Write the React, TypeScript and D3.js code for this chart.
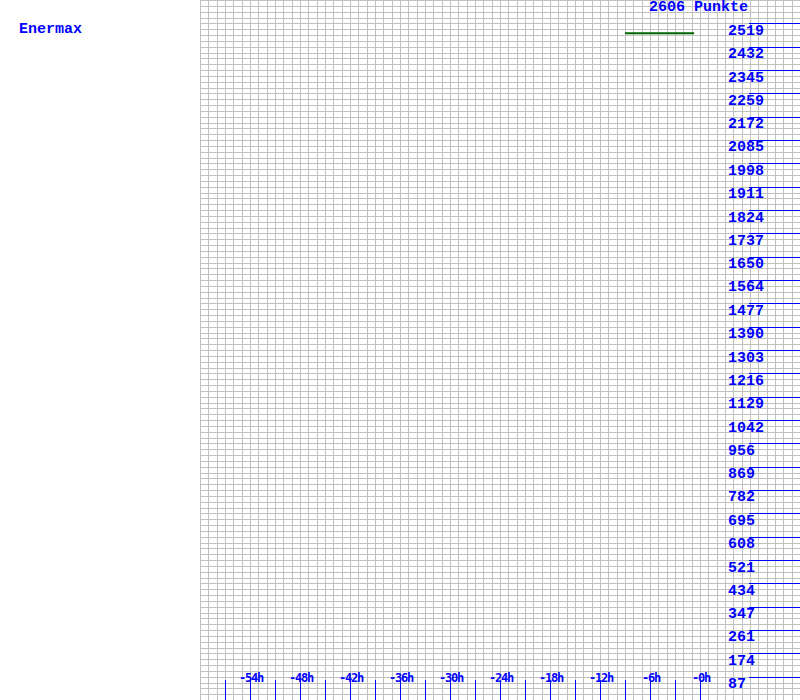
import React from "react";
import * as d3 from "d3";

const title = "Enermax";
const totalLabel = "2606 Punkte";
const yMax = 2606;
const yTickValues = [87, 174, 261, 347, 434, 521, 608, 695, 782, 869, 956, 1042, 1129, 1216, 1303, 1390, 1477, 1564, 1650, 1737, 1824, 1911, 1998, 2085, 2172, 2259, 2345, 2432, 2519];
const xTickHours = [-57, -54, -51, -48, -45, -42, -39, -36, -33, -30, -27, -24, -21, -18, -15, -12, -9, -6, -3, 0];
const xLabelHours = [-54, -48, -42, -36, -30, -24, -18, -12, -6, 0];
const seriesHours = [-9, -6, -3, -0.7];
const seriesValues = [2482, 2482, 2482, 2482];

const W = 800;
const H = 700;
const FONT = "'Liberation Mono', 'DejaVu Sans Mono', monospace";
const SMALLFONT = "'DejaVu Sans Mono', 'Liberation Mono', monospace";
const BLUE = "#0000ff";

export default function App() {
  const x = d3.scaleLinear().domain([-60, 0]).range([200, 700]);
  const y = d3.scaleLinear().domain([0, yMax]).range([H, 0]);

  const vGrid: number[] = [];
  for (let h = -60; x(h) <= W + 0.01; h += 1) vGrid.push(Math.round(x(h)) + 0.5);
  const hGrid: number[] = [];
  for (let i = 0; i <= 120; i++) hGrid.push(Math.round((i * H) / 120) + 0.5);

  const line = d3
    .line<number>()
    .x((_, i) => x(seriesHours[i]))
    .y((d) => y(d));

  return (
    <svg
      width={W}
      height={H}
      style={{ position: "absolute", left: 0, top: 0, background: "#fff" }}
    >
      <g shapeRendering="crispEdges">
        {vGrid.map((gx, i) => (
          <line key={"v" + i} x1={gx} x2={gx} y1={0} y2={H} stroke="#c0c0c0" strokeWidth={1} />
        ))}
        {hGrid.map((gy, i) => (
          <line key={"h" + i} x1={200} x2={W} y1={gy} y2={gy} stroke="#c0c0c0" strokeWidth={1} />
        ))}
      </g>
      <g shapeRendering="crispEdges">
        {yTickValues.map((v) => (
          <line
            key={"yl" + v}
            x1={749}
            x2={W}
            y1={Math.round(y(v)) + 0.5}
            y2={Math.round(y(v)) + 0.5}
            stroke={BLUE}
            strokeWidth={1}
          />
        ))}
        {xTickHours.map((h) => (
          <line
            key={"xt" + h}
            x1={Math.round(x(h)) + 0.5}
            x2={Math.round(x(h)) + 0.5}
            y1={680}
            y2={H}
            stroke={BLUE}
            strokeWidth={1}
          />
        ))}
      </g>
      <g fill={BLUE} fontFamily={FONT} fontSize={15} fontWeight="bold">
        {yTickValues.map((v) => (
          <text key={"yt" + v} x={728} y={y(v) + 11.5}>
            {v}
          </text>
        ))}
        <text x={748} y={11} textAnchor="end">
          {totalLabel}
        </text>
        <text x={19} y={33}>
          {title}
        </text>
      </g>
      <g fill={BLUE} fontFamily={SMALLFONT} fontSize={12} fontWeight="bold" letterSpacing={-1.2}>
        {xLabelHours.map((h) => (
          <text key={"xl" + h} x={x(h) + 1} y={682} textAnchor="middle">
            {"-" + Math.abs(h) + "h"}
          </text>
        ))}
      </g>
      <path d={line(seriesValues) || ""} fill="none" stroke="#006400" strokeWidth={2} />
    </svg>
  );
}
